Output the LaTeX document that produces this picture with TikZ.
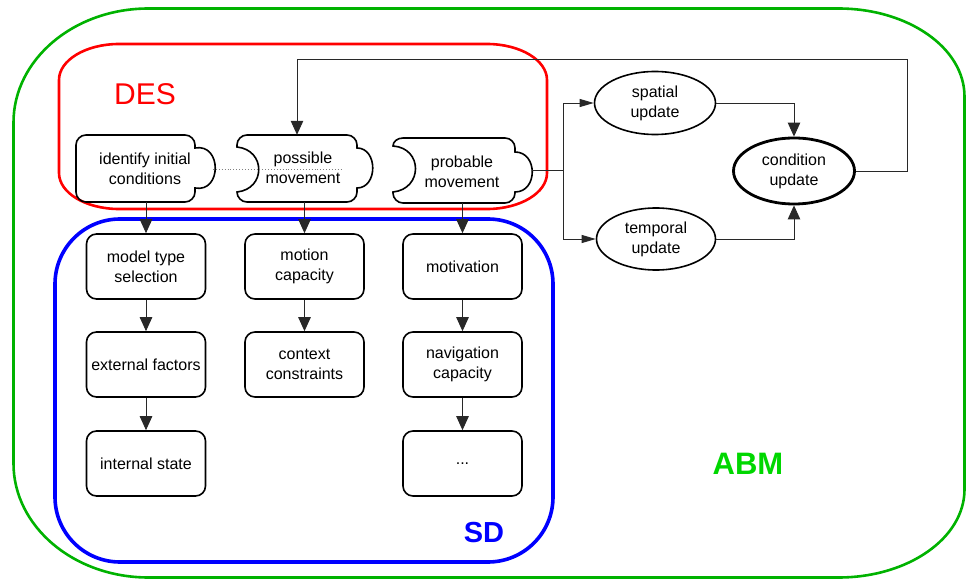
\documentclass[tikz,border=0pt]{standalone}
\usepackage{fontspec}
\setmainfont{Liberation Sans}
\usetikzlibrary{arrows.meta,shapes.geometric}
\definecolor{abmgreen}{RGB}{0,178,0}
\definecolor{abmtext}{RGB}{0,215,0}
\definecolor{linegray}{RGB}{40,40,40}
\begin{document}
\begin{tikzpicture}[x=1pt,y=-1pt,
  lbl/.style={font=\fontsize{16}{20}\selectfont, align=center},
  box/.style={lbl, draw, line width=1.6pt, rounded corners=10pt, minimum width=119pt, minimum height=65pt, inner sep=2pt},
  puzbody/.style={draw=none, minimum width=#1, minimum height=67pt, inner sep=0pt},
  puzline/.style={line width=1.6pt},
  ell/.style={lbl, draw, ellipse, line width=1.6pt, minimum width=121pt, minimum height=63pt, inner sep=0pt},
  conn/.style={line width=0.9pt, draw=linegray},
  varr/.style={conn, -{Triangle[length=14pt,width=12.5pt]}},
  harr/.style={conn, -{Triangle[length=14pt,width=8pt]}},
  biglbl/.style={font=\fontsize{30}{34}\selectfont}
]
\useasboundingbox (0,0) rectangle (967,580);

% ---- containers ----
\draw[abmgreen, line width=2.6pt]
  (148.5,8.5) -- (838.5,8.5) .. controls (908.1,8.5) and (964.5,47.9) .. (964.5,96.5)
  -- (964.5,489.5) .. controls (964.5,538.1) and (908.1,577.5) .. (838.5,577.5)
  -- (148.5,577.5) .. controls (73.9,577.5) and (13.5,526.5) .. (13.5,463.5)
  -- (13.5,122.5) .. controls (13.5,59.5) and (73.9,8.5) .. (148.5,8.5) -- cycle;
\draw[red, line width=2.6pt]
  (119,44) -- (487,44) .. controls (520.1,44) and (547,60.1) .. (547,80)
  -- (547,173) .. controls (547,192.9) and (520.1,209) .. (487,209)
  -- (119,209) .. controls (85.9,209) and (59,192.9) .. (59,173)
  -- (59,80) .. controls (59,60.1) and (85.9,44) .. (119,44) -- cycle;
\draw[blue, line width=3.6pt, rounded corners=65pt] (55,219) rectangle (553,562);

\node[biglbl, text=red] (des) at (145,94) {DES};
\node[biglbl, font=\fontsize{29}{33}\selectfont\bfseries, text=blue] (sd) at (484,533) {SD};
\node[biglbl, font=\fontsize{31}{35}\selectfont\bfseries, text=abmtext] (abm) at (748,463.5) {ABM};

% ---- puzzle pieces (DES) ----
\node[puzbody=119pt] (idc) at (135.5,168.5) {};
\node[puzbody=120pt] (pm) at (297,168.5) {};
\node[puzbody=122pt, minimum height=65pt] (prm) at (454,170.5) {};

% identify initial conditions
\draw[puzline]
  (86,135) -- (185,135) .. controls (190.5,135) and (195,139.5) .. (195,145)
  -- (195,148) .. controls (222,143) and (222,193) .. (195,188)
  -- (195,192) .. controls (195,197.5) and (190.5,202) .. (185,202)
  -- (86,202) .. controls (80.5,202) and (76,197.5) .. (76,192)
  -- (76,145) .. controls (76,139.5) and (80.5,135) .. (86,135) -- cycle;
% possible movement
\draw[puzline]
  (247,135) -- (347,135) .. controls (352.5,135) and (357,139.5) .. (357,145)
  -- (357,148) .. controls (378,148) and (378,188) .. (357,188)
  -- (357,192) .. controls (357,197.5) and (352.5,202) .. (347,202)
  -- (247,202) .. controls (241.5,202) and (237,197.5) .. (237,192)
  .. controls (266,189) and (266,150) .. (237,147)
  -- (237,145) .. controls (237,139.5) and (241.5,135) .. (247,135) -- cycle;
% probable movement
\draw[puzline]
  (403,138) -- (505,138) .. controls (510.5,138) and (515,142.5) .. (515,148)
  -- (515,152) .. controls (538,152) and (538,192) .. (515,192)
  -- (515,193) .. controls (515,198.5) and (510.5,203) .. (505,203)
  -- (403,203) .. controls (397.5,203) and (393,198.5) .. (393,193)
  -- (393,192) .. controls (423,189) and (423,148) .. (393,146)
  .. controls (393,141.5) and (397.5,138) .. (403,138) -- cycle;

\coordinate (dotA) at (213,169);
\coordinate (dotB) at (343,169);
\draw[gray, line width=0.9pt, dotted] (dotA) -- (dotB);

\node[lbl] (idct) at (145,169) {identify initial\\conditions};
\node[lbl] (pmt) at (303,168) {possible\\movement};
\node[lbl] (prmt) at (462,172) {probable\\movement};

% ---- SD boxes ----
\node[box] (mts) at (146,266.5) {model type\\selection};
\node[box] (ext) at (146,364.5) {external factors};
\node[box] (ist) at (146,463.5) {internal state};
\node[box] (mot) at (304.5,266.5) {motion\\capacity};
\node[box] (ctx) at (304.5,364.5) {context\\constraints};
\node[box] (motv) at (462.5,266.5) {motivation};
\node[box] (nav) at (462.5,364.5) {navigation\\capacity};
\node[box] (etc) at (462.5,463.5) {...};

% ---- ABM ellipses ----
\node[ell] (sp) at (655,103) {spatial\\update};
\node[ell, minimum width=119pt, minimum height=62pt] (tp) at (656,239) {temporal\\update};
\node[ell, line width=2.8pt, minimum height=66pt] (cu) at (794,171) {condition\\update};

% ---- connectors ----
\draw[varr] (idc.south -| mts.north) -- (mts.north);
\draw[varr] (pm.south -| mot.north) -- (mot.north);
\draw[varr] (prm.south -| motv.north) -- (motv.north);
\draw[varr] (mts) -- (ext);
\draw[varr] (ext) -- (ist);
\draw[varr] (mot) -- (ctx);
\draw[varr] (motv) -- (nav);
\draw[varr] (nav) -- (etc);

\coordinate (prmbump) at (532,170);
\coordinate (split) at (563,170);
\draw[conn] (prmbump) -- (split);
\draw[harr] (split) |- (sp.west);
\draw[harr] (split) |- (tp.west);
\draw[varr] (sp.east) -| (cu.north);
\draw[varr] (tp.east) -| (cu.south);
\coordinate (fb) at (907,59);
\draw[varr] (cu.east) -| (fb) -| (pm.north);
\end{tikzpicture}
\end{document}
